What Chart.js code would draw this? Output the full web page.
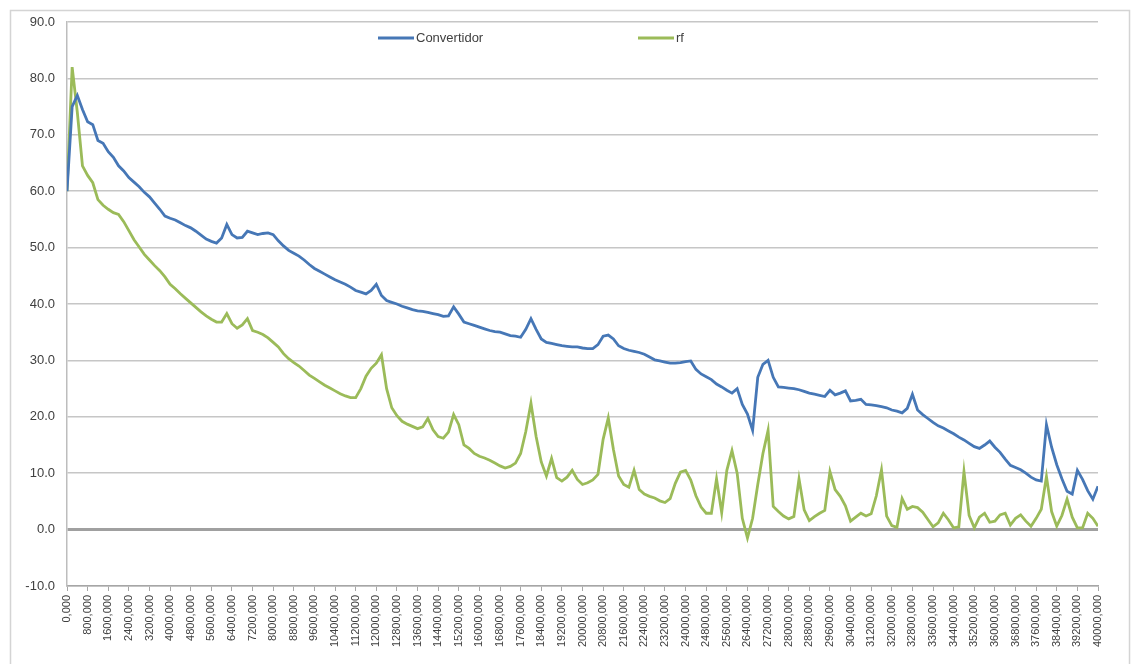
<!DOCTYPE html>
<html lang="es">
<head>
<meta charset="UTF-8">
<title>Convertidor / rf</title>
<script src="https://cdn.jsdelivr.net/npm/chart.js"></script>
<style>
  body { margin: 0; background: #fff; }
  #wrap { width: 1135px; height: 664px; }
</style>
</head>
<body>
<div id="wrap"><canvas id="lineChart" width="1135" height="664"></canvas></div>
<script>
// one sample every 200 units of distance, tick labels every 800
const STEP = 200;
const TICK_STEP = 800;
const X_MAX = 40000;

const convertidor = [
  60, 75, 77, 74.5, 72.3, 71.8, 69, 68.5, 67, 66,
  64.5, 63.6, 62.4, 61.6, 60.8, 59.8, 59, 57.9, 56.8, 55.6,
  55.2, 54.9, 54.4, 53.9, 53.5, 52.9, 52.2, 51.5, 51.1, 50.8,
  51.7, 54.1, 52.3, 51.7, 51.8, 52.9, 52.6, 52.3, 52.5, 52.6,
  52.3, 51.2, 50.3, 49.5, 49, 48.5, 47.8, 47, 46.3, 45.8,
  45.3, 44.8, 44.3, 43.9, 43.5, 43, 42.4, 42.1, 41.8, 42.4,
  43.5, 41.5, 40.6, 40.3, 40, 39.6, 39.3, 39, 38.8, 38.7,
  38.5, 38.3, 38.1, 37.8, 37.9, 39.5, 38.2, 36.8, 36.5, 36.2,
  35.9, 35.6, 35.3, 35.1, 35, 34.7, 34.4, 34.3, 34.1, 35.5,
  37.4, 35.5, 33.8, 33.2, 33, 32.8, 32.6, 32.5, 32.4, 32.4,
  32.2, 32.1, 32.1, 32.8, 34.3, 34.5, 33.8, 32.6, 32.1, 31.8,
  31.6, 31.4, 31.1, 30.6, 30.1, 29.9, 29.7, 29.5, 29.5, 29.6,
  29.8, 29.9, 28.4, 27.6, 27.1, 26.6, 25.8, 25.3, 24.7, 24.2,
  25, 22.2, 20.5, 17.6, 27, 29.3, 30, 27, 25.3, 25.2,
  25.1, 25, 24.8, 24.5, 24.2, 24, 23.8, 23.6, 24.7, 23.9,
  24.2, 24.6, 22.8, 22.9, 23.1, 22.2, 22.1, 22, 21.8, 21.6,
  21.2, 21, 20.7, 21.5, 24, 21.2, 20.4, 19.7, 19, 18.4,
  18, 17.5, 17, 16.4, 15.9, 15.3, 14.7, 14.4, 15, 15.7,
  14.6, 13.7, 12.5, 11.4, 11, 10.6, 10, 9.3, 8.8, 8.6,
  18.6, 14.6, 11.5, 9, 6.8, 6.3, 10.5, 8.9, 6.9, 5.4,
  7.7
];

const rf = [
  60, 82, 74, 64.5, 62.8, 61.5, 58.5, 57.5, 56.8, 56.2,
  55.9, 54.6, 53, 51.4, 50.1, 48.8, 47.8, 46.8, 45.9, 44.8,
  43.5, 42.7, 41.8, 41, 40.2, 39.4, 38.6, 37.9, 37.3, 36.8,
  36.8, 38.3, 36.5, 35.7, 36.3, 37.4, 35.3, 35, 34.6, 34,
  33.2, 32.4, 31.2, 30.3, 29.6, 29, 28.2, 27.4, 26.8, 26.2,
  25.6, 25.1, 24.6, 24.1, 23.7, 23.4, 23.4, 25, 27.2, 28.6,
  29.5, 31, 25, 21.6, 20.2, 19.2, 18.7, 18.3, 17.9, 18.2,
  19.7, 17.7, 16.5, 16.2, 17.3, 20.4, 18.6, 15, 14.4, 13.5,
  13, 12.7, 12.3, 11.8, 11.3, 10.9, 11.2, 11.8, 13.5, 17.4,
  22.4, 16.5, 12, 9.5, 12.6, 9.2, 8.6, 9.3, 10.5, 8.9,
  8, 8.3, 8.8, 9.8, 16, 19.8, 14.2, 9.5, 8, 7.5,
  10.5, 7.1, 6.3, 5.9, 5.6, 5.1, 4.8, 5.5, 8.2, 10.2,
  10.5, 8.8, 6, 4, 2.9, 2.9, 9, 3, 10.5, 14,
  10, 2, -1.5, 2, 8, 13.5, 17.6, 4.1, 3.2, 2.4,
  1.9, 2.3, 9, 3.5, 1.6, 2.3, 2.9, 3.4, 10.3, 7.1,
  5.9, 4.2, 1.5, 2.2, 2.9, 2.4, 2.8, 6, 10.6, 2.4,
  0.7, 0.4, 5.5, 3.6, 4.1, 3.9, 3.1, 1.8, 0.5, 1.2,
  2.9, 1.7, 0.3, 0.5, 10.3, 2.5, 0.3, 2.2, 2.9, 1.3,
  1.5, 2.6, 2.9, 0.8, 2, 2.6, 1.5, 0.6, 2, 3.6,
  9.4, 3.2, 0.6, 2.5, 5.4, 2.2, 0.3, 0.3, 2.9, 2,
  0.6
];

const seriesNames = ['Convertidor', 'rf'];
const seriesColors = ['#4677b6', '#9bbb59'];
const Y_MIN = -10, Y_MAX = 90, Y_STEP = 10;

const FONT = 'Liberation Sans, Arial, sans-serif';

const toPoints = arr => arr.map((v, i) => ({ x: i * STEP, y: v }));

// white background + thin outer frame like the spreadsheet chart object
const frame = {
  id: 'frame',
  beforeDraw(chart) {
    const c = chart.ctx;
    c.save();
    c.fillStyle = '#fff';
    c.fillRect(0, 0, chart.width, chart.height);
    c.strokeStyle = '#d4d4d4';
    c.lineWidth = 1.5;
    c.strokeRect(10.5, 10.5, chart.width - 16, chart.height + 20);
    c.restore();
  }
};

// legend sits inside the plot, near the top
const inlineLegend = {
  id: 'inlineLegend',
  afterDraw(chart) {
    const c = chart.ctx;
    const spots = [378, 638];
    const y = chart.chartArea.top + 16;
    c.save();
    c.font = '13px ' + FONT;
    c.textBaseline = 'middle';
    chart.data.datasets.forEach((ds, i) => {
      const x = spots[i];
      c.strokeStyle = ds.borderColor;
      c.lineWidth = 2.8;
      c.beginPath();
      c.moveTo(x, y);
      c.lineTo(x + 36, y);
      c.stroke();
      c.fillStyle = '#404040';
      c.fillText(ds.label, x + 38, y);
    });
    c.restore();
  }
};

const ctx = document.getElementById('lineChart').getContext('2d');
new Chart(ctx, {
  type: 'line',
  data: {
    datasets: [convertidor, rf].map((arr, i) => ({
      label: seriesNames[i],
      data: toPoints(arr),
      borderColor: seriesColors[i],
      backgroundColor: seriesColors[i],
      borderWidth: 2.8,
      pointRadius: 0,
      tension: 0
    }))
  },
  options: {
    responsive: false,
    animation: false,
    layout: { padding: { top: 22, right: 37, left: 0, bottom: 0 } },
    plugins: {
      legend: { display: false },
      tooltip: { enabled: false }
    },
    scales: {
      x: {
        type: 'linear',
        min: 0,
        max: X_MAX,
        ticks: {
          stepSize: TICK_STEP,
          autoSkip: false,
          minRotation: 90,
          maxRotation: 90,
          padding: 4,
          color: '#404040',
          font: { family: FONT, size: 11 },
          callback: v => v + ',000'
        },
        grid: { drawOnChartArea: false, tickLength: 5, color: '#a6a6a6' },
        border: { color: '#a6a6a6', width: 1.5 },
        afterFit: s => { s.height = 78; }
      },
      y: {
        min: Y_MIN,
        max: Y_MAX,
        ticks: {
          stepSize: Y_STEP,
          padding: 12,
          color: '#404040',
          font: { family: FONT, size: 13 },
          callback: v => v.toFixed(1)
        },
        grid: {
          drawTicks: false,
          color: c => c.tick.value === 0 ? '#a0a0a0' : '#c6c6c6',
          lineWidth: c => c.tick.value === 0 ? 3 : 1.5
        },
        border: { color: '#bdbdbd', width: 1.5 },
        afterFit: s => { s.width = 67; }
      }
    }
  },
  plugins: [frame, inlineLegend]
});
</script>
</body>
</html>
